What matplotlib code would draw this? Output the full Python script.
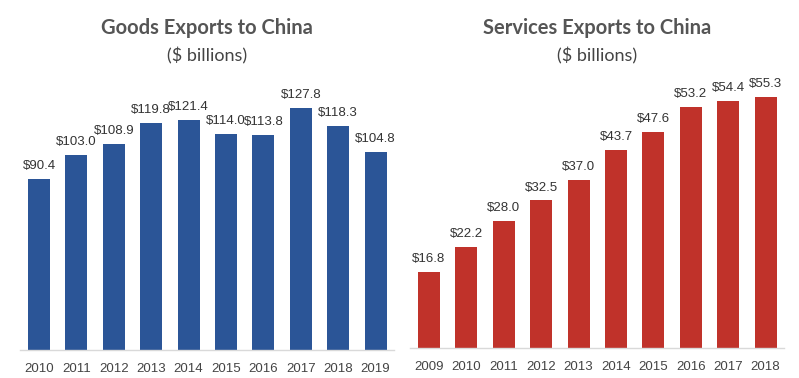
import matplotlib
matplotlib.use("Agg")
import matplotlib.pyplot as plt

# data
goods_years = ["2010", "2011", "2012", "2013", "2014", "2015", "2016", "2017", "2018", "2019"]
goods_values = [90.4, 103.0, 108.9, 119.8, 121.4, 114.0, 113.8, 127.8, 118.3, 104.8]

services_years = ["2009", "2010", "2011", "2012", "2013", "2014", "2015", "2016", "2017", "2018"]
services_values = [16.8, 22.2, 28.0, 32.5, 37.0, 43.7, 47.6, 53.2, 54.4, 55.3]

W, H = 799, 378
fig = plt.figure(figsize=(W / 100, H / 100), dpi=100, facecolor="white")


def panel(left_px, bottom_px, top_px, years, values, color, title):
    ax = fig.add_axes([left_px / W, bottom_px / H, 374 / W, (top_px - bottom_px) / H])
    x = range(len(values))
    bars = ax.bar(x, values, width=0.59, color=color)
    ax.set_xlim(-0.5, len(values) - 0.5)
    ax.set_ylim(0, max(values))
    for b, v in zip(bars, values):
        ax.annotate("${:.1f}".format(v), (b.get_x() + b.get_width() / 2, v),
                    xytext=(0, 5), textcoords="offset points", ha="center", va="bottom",
                    fontsize=9.5, color="#333333", family="Liberation Sans")
    ax.set_xticks(list(x))
    ax.set_xticklabels(years, fontsize=9.5, color="#444444", family="Liberation Sans")
    ax.tick_params(axis="x", length=0, pad=9)
    ax.set_yticks([])
    for s in ["top", "right", "left"]:
        ax.spines[s].set_visible(False)
    ax.spines["bottom"].set_color("#d9d9d9")
    ax.spines["bottom"].set_linewidth(1)
    cx = (left_px + 187) / W
    fig.text(cx, 1 - 28 / H, title, ha="center", va="center", fontsize=14.5,
             fontweight="bold", color="#555555", family="Lato")
    fig.text(cx, 1 - 56 / H, "($ billions)", ha="center", va="center", fontsize=13,
             color="#444444", family="Lato")
    return ax


panel(20.3, 28, 270, goods_years, goods_values, "#2b5597", "Goods Exports to China")
panel(410.3, 30, 281, services_years, services_values, "#c0322a", "Services Exports to China")

fig.savefig("out.png", dpi=100, facecolor="white")
